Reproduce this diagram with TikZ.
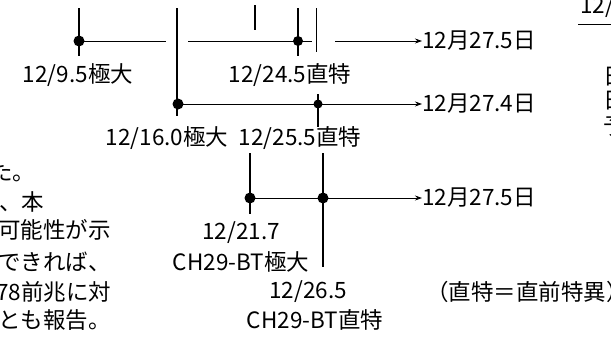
\documentclass[tikz,border=0pt]{standalone}
\usepackage{fontspec}
\setmainfont{Noto Sans CJK JP}
\usetikzlibrary{arrows.meta}
\begin{document}
\begin{tikzpicture}[x=1pt,y=-1pt,
  lbl/.style={inner sep=0pt, font=\fontsize{22.5}{22.5}\selectfont},
  tick/.style={line width=1.3pt},
  hline/.style={line width=0.8pt},
  arr/.style={hline,-{Stealth[length=7pt,width=5pt]}},
  dot/.style={fill, circle, inner sep=0pt, minimum size=11pt}]
\useasboundingbox (0,0) rectangle (611,340);
\clip (0,0) rectangle (611,340);
% ---- row 1
\node[dot] (d11) at (79,41) {};
\node[dot,minimum size=10pt] (d12) at (298,41) {};
\coordinate (v1t) at (79,8);   \coordinate (v1b) at (79,56);
\coordinate (v2t) at (177,8);  \coordinate (v2b) at (177,116);
\coordinate (v3t) at (255,5);  \coordinate (v3b) at (255,30);
\coordinate (v4t) at (298,8);  \coordinate (v4b) at (298,56);
\coordinate (v5t) at (316,8);  \coordinate (v5b) at (316,52);
\draw[tick] (v1t) -- (v1b);
\draw[tick] (v2t) -- (v2b);
\draw[tick] (v3t) -- (v3b);
\draw[tick] (v4t) -- (v4b);
\draw[hline,line width=0.9pt] (v5t) -- (v5b);
\coordinate (e11) at (166,41);
\coordinate (s12) at (188,41); \coordinate (e12) at (312,41);
\coordinate (s13) at (335,41);
\draw[hline] (d11.center) -- (e11);
\draw[hline] (s12) -- (e12);
\node[lbl,anchor=west] (t1) at (422,41) {12月27.5日};
\draw[arr] (s13) -- (t1.west);
\node[lbl] (l11) at (78,75) {12/9.5極大};
\node[lbl] (l12) at (290,75) {12/24.5直特};
% ---- row 2
\node[dot] (d21) at (178,104) {};
\node[dot,minimum size=9pt] (d22) at (318,104) {};
\coordinate (v6t) at (318,94); \coordinate (v6b) at (318,127);
\draw[tick] (v6t) -- (v6b);
\node[lbl,anchor=west] (t2) at (422,104) {12月27.4日};
\draw[arr] (d21.center) -- (t2.west);
\node[lbl] (l21) at (167,138) {12/16.0極大};
\node[lbl] (l22) at (300,138) {12/25.5直特};
% ---- row 3
\node[dot] (d31) at (250,198) {};
\node[dot] (d32) at (323,198) {};
\coordinate (v7t) at (250,153); \coordinate (v7b) at (250,214);
\coordinate (v8t) at (323,153); \coordinate (v8b) at (323,267);
\draw[tick] (v7t) -- (v7b);
\draw[tick] (v8t) -- (v8b);
\node[lbl,anchor=west] (t3) at (422,198) {12月27.5日};
\draw[arr] (d31.center) -- (t3.west);
\node[lbl] (l31) at (241,233) {12/21.7};
\node[lbl] (l32) at (241,262) {CH29-BT極大};
\node[lbl] (l33) at (308,292) {12/26.5};
\node[lbl] (l34) at (315,320) {CH29-BT直特};
\node[lbl,anchor=west] (note) at (426,292) {（直特＝直前特異）};
% ---- left paragraph
\node[lbl,anchor=west] (p1) at (-10,172) {た。};
\node[lbl,anchor=west] (p2) at (-1,202) {、本};
\node[lbl,anchor=west] (p3) at (-2,230) {可能性が示};
\node[lbl,anchor=west] (p4) at (-2,262) {できれば、};
\node[lbl,anchor=west] (p5) at (-4,292) {78前兆に対};
\node[lbl,anchor=west] (p6) at (-2,320) {とも報告。};
% ---- right edge fragments
\node[lbl,anchor=base west] (r0) at (580,13) {12/};
\coordinate (u1) at (578,24); \coordinate (u2) at (611,24);
\draw[hline] (u1) -- (u2);
\node[lbl,anchor=west] (r1) at (603,77) {日};
\node[lbl,anchor=west] (r2) at (603,101) {日};
\node[lbl,anchor=west] (r3) at (603,126) {予};
\end{tikzpicture}
\end{document}
